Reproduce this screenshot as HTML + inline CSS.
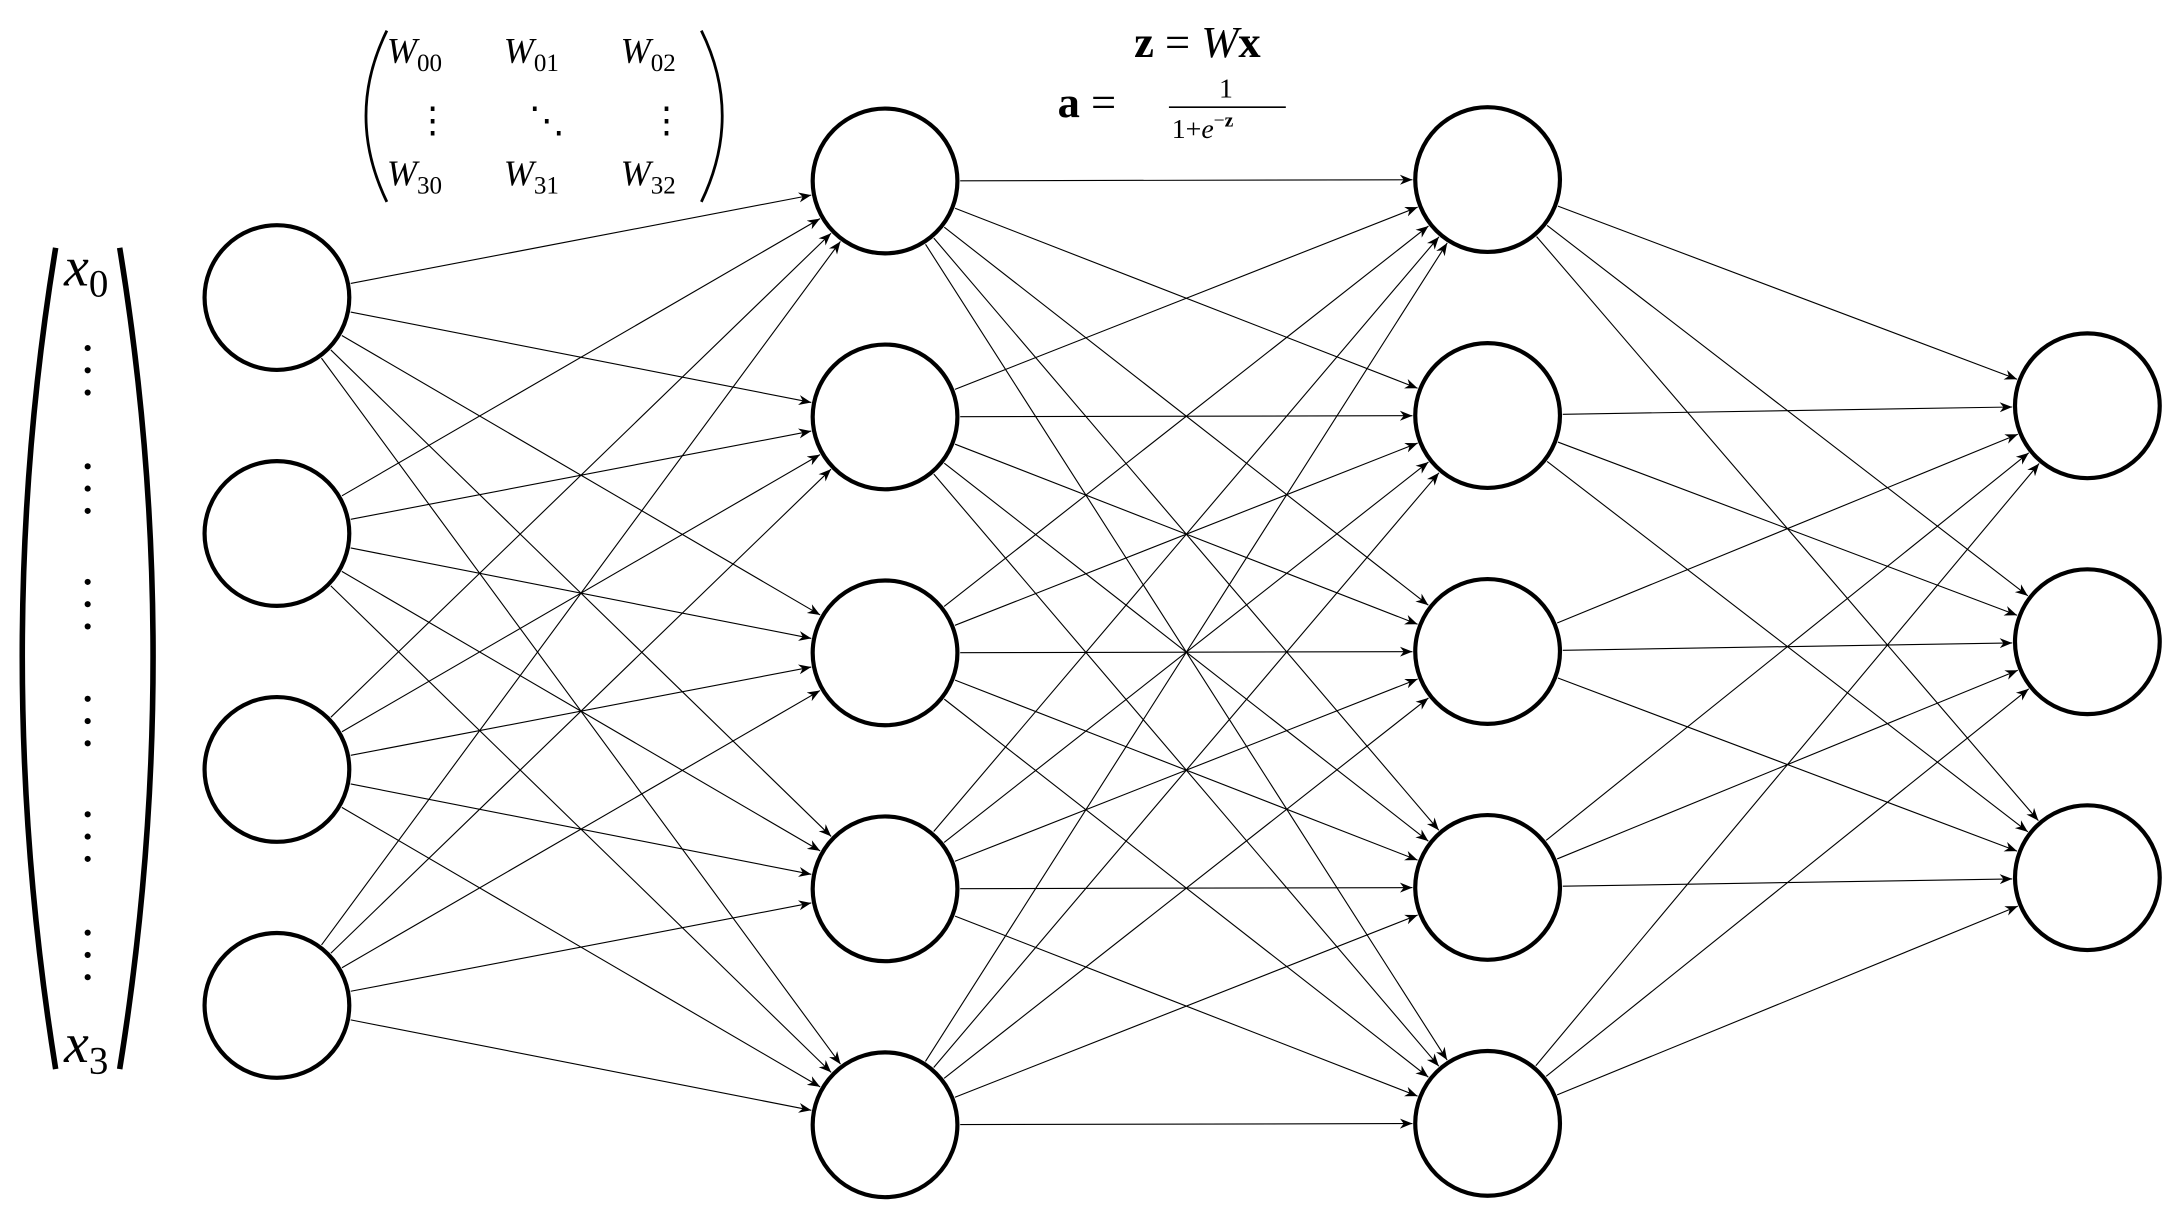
<!DOCTYPE html>
<html><head><meta charset="utf-8"><style>
html,body{margin:0;padding:0;background:#fff;}
svg{display:block;}
text{font-family:"Liberation Serif",serif;fill:#000;}
</style></head><body>
<svg id="net" width="2182" height="1225" viewBox="0 0 1568 880" preserveAspectRatio="none" xmlns="http://www.w3.org/2000/svg">
<defs><marker id="arr" viewBox="0 0 10 10" refX="10" refY="5" markerWidth="9" markerHeight="9" markerUnits="userSpaceOnUse" orient="auto"><path d="M0,1 L10,5 L0,9 L3,5 Z" fill="#000"/></marker></defs>
<g id="edges"></g>
<g id="nodes"></g>
<g>
<path d="M40,178 Q-8,470 40,768" fill="none" stroke="#000" stroke-width="4"/>
<path d="M86,178 Q134,470 86,768" fill="none" stroke="#000" stroke-width="4"/>
<text x="62" y="205" font-size="40" font-style="italic" text-anchor="middle">x<tspan font-size="28" font-style="normal" dy="8">0</tspan></text>
<text x="62" y="763" font-size="40" font-style="italic" text-anchor="middle">x<tspan font-size="28" font-style="normal" dy="8">3</tspan></text>
<g id="vdots"></g>
</g>
<g>
<path d="M278,22 Q248,83 278,145" fill="none" stroke="#000" stroke-width="2"/>
<path d="M504,22 Q534,83 504,145" fill="none" stroke="#000" stroke-width="2"/>
<text x="278" y="45" font-size="26" font-style="italic">W<tspan font-size="18" font-style="normal" dy="6">00</tspan></text>
<text x="362" y="45" font-size="26" font-style="italic">W<tspan font-size="18" font-style="normal" dy="6">01</tspan></text>
<text x="446" y="45" font-size="26" font-style="italic">W<tspan font-size="18" font-style="normal" dy="6">02</tspan></text>
<text x="278" y="133" font-size="26" font-style="italic">W<tspan font-size="18" font-style="normal" dy="6">30</tspan></text>
<text x="362" y="133" font-size="26" font-style="italic">W<tspan font-size="18" font-style="normal" dy="6">31</tspan></text>
<text x="446" y="133" font-size="26" font-style="italic">W<tspan font-size="18" font-style="normal" dy="6">32</tspan></text>
<text x="298" y="95" font-size="26">⋮</text><text x="380" y="95" font-size="26">⋱</text><text x="466" y="95" font-size="26">⋮</text>
</g>
<text x="815" y="41" font-size="32"><tspan font-weight="bold">z</tspan> = <tspan font-style="italic">W</tspan><tspan font-weight="bold">x</tspan></text>
<g>
<text x="760" y="84" font-size="32"><tspan font-weight="bold">a</tspan> =</text>
<text x="876" y="70" font-size="20">1</text>
<line x1="840" y1="77" x2="924" y2="77" stroke="#000" stroke-width="1.2"/>
<text x="842" y="99" font-size="20">1+<tspan font-style="italic">e</tspan><tspan font-size="14" dy="-8">−<tspan font-weight="bold">z</tspan></tspan></text>
</g>
</svg>
<script>
const layerSizes = [4, 5, 5, 3];
const layerNames = ["input", "hidden1", "hidden2", "output"];
const layerX = [199, 636, 1069, 1500];
const layerYShift = [-1, 0, -1, -8];
const xScale = i => layerX[i];
const yScale = (j, n, l) => 469 + layerYShift[l] + (j - (n - 1) / 2) * 169.5;
const R = 52;
const NS = "http://www.w3.org/2000/svg";
const eg = document.getElementById('edges'), ng = document.getElementById('nodes');
for (let l = 0; l < layerSizes.length - 1; l++) {
  for (let a = 0; a < layerSizes[l]; a++) for (let b = 0; b < layerSizes[l + 1]; b++) {
    const x1 = xScale(l), y1 = yScale(a, layerSizes[l], l), x2 = xScale(l + 1), y2 = yScale(b, layerSizes[l + 1], l + 1);
    const dx = x2 - x1, dy = y2 - y1, d = Math.hypot(dx, dy);
    const ln = document.createElementNS(NS, 'line');
    ln.setAttribute('x1', x1 + dx / d * (R + 2)); ln.setAttribute('y1', y1 + dy / d * (R + 2));
    ln.setAttribute('x2', x2 - dx / d * (R + 2)); ln.setAttribute('y2', y2 - dy / d * (R + 2));
    ln.setAttribute('stroke', '#000'); ln.setAttribute('stroke-width', '0.8');
    ln.setAttribute('marker-end', 'url(#arr)');
    
    
    eg.appendChild(ln);
  }
}
layerSizes.forEach((n, l) => {
  for (let j = 0; j < n; j++) {
    const c = document.createElementNS(NS, 'circle');
    c.setAttribute('cx', xScale(l)); c.setAttribute('cy', yScale(j, n, l)); c.setAttribute('r', R);
    c.setAttribute('fill', '#fff'); c.setAttribute('stroke', '#000'); c.setAttribute('stroke-width', '3');
    
    
    ng.appendChild(c);
  }
});
const dotGroups = [250, 335, 418, 502, 585, 670];
const vd = document.getElementById('vdots');
dotGroups.forEach(y0 => {
  for (let k = 0; k < 3; k++) {
    const c = document.createElementNS(NS, 'circle');
    c.setAttribute('cx', 63); c.setAttribute('cy', y0 + k * 16); c.setAttribute('r', 2.2);
    c.setAttribute('fill', '#000');
    
    
    vd.appendChild(c);
  }
});
</script>
</body></html>
